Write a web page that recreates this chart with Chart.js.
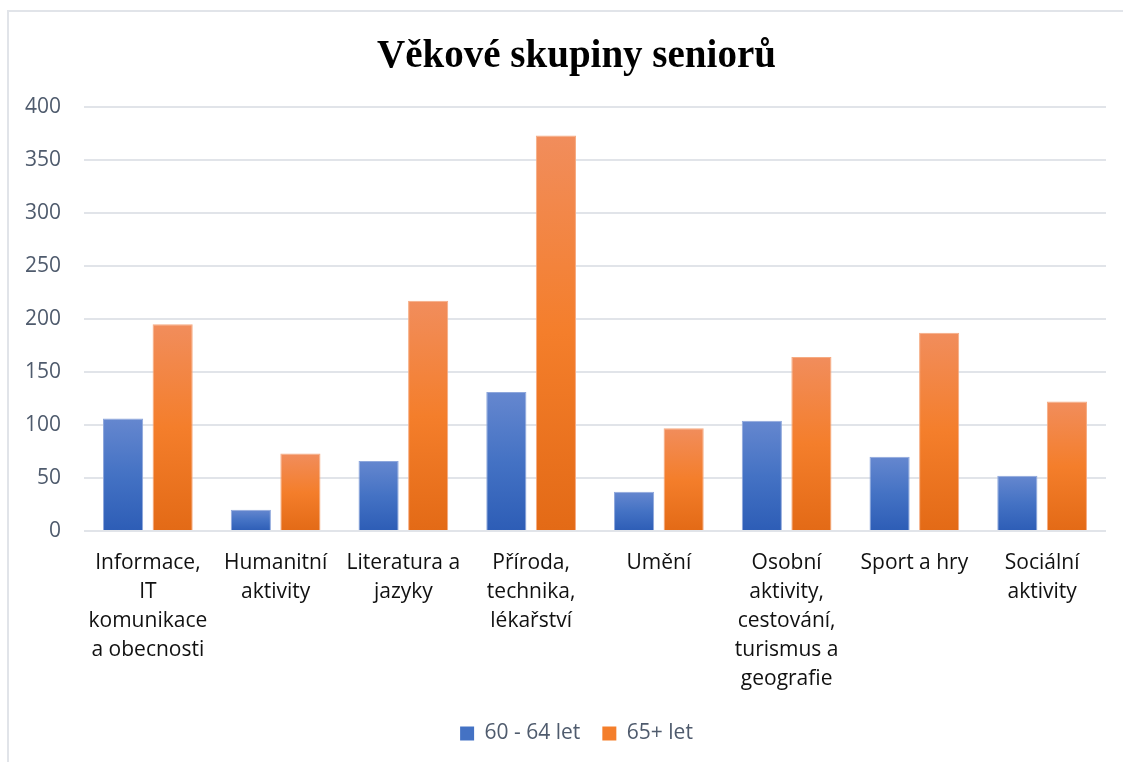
<!DOCTYPE html>
<html>
<head>
<meta charset="utf-8">
<script src="https://cdn.jsdelivr.net/npm/chart.js@4/dist/chart.umd.min.js"></script>
<style>
  html, body { margin: 0; padding: 0; background: #ffffff; overflow: hidden; }
  #wrap { position: relative; width: 1123px; height: 762px; overflow: hidden; }
  #frame { position: absolute; left: 7px; top: 10px; width: 1200px; height: 800px;
           border-left: 2px solid #e1e4e9; border-top: 2px solid #e1e4e9; box-sizing: border-box; }
  #c { position: absolute; left: 0; top: 0; }
</style>
</head>
<body>
<div id="wrap">
  <div id="frame"></div>
  <canvas id="c" width="1143" height="762"></canvas>
</div>
<script>
const chartTitle = 'Věkové skupiny seniorů';
const categories = [
  ['Informace,', 'IT', 'komunikace', 'a obecnosti'],
  ['Humanitní', 'aktivity'],
  ['Literatura a', 'jazyky'],
  ['Příroda,', 'technika,', 'lékařství'],
  ['Umění'],
  ['Osobní', 'aktivity,', 'cestování,', 'turismus a', 'geografie'],
  ['Sport a hry'],
  ['Sociální', 'aktivity']
];
const seriesNames = ['60 - 64 let', '65+ let'];
const values6064 = [106, 20, 66, 131, 37, 104, 70, 52];
const values65plus = [195, 73, 217, 373, 97, 164, 187, 122];
const yTicks = [0, 50, 100, 150, 200, 250, 300, 350, 400];

const blueStops = ['#6587cf', '#4472c4', '#2d5db6'];
const orangeStops = ['#f18d5c', '#f47e2b', '#e36a16'];

function gradFill(stops) {
  return function (ctx) {
    const chart = ctx.chart;
    if (!chart.chartArea || ctx.type !== 'data') return stops[1];
    const ys = chart.scales.y;
    const top = ys.getPixelForValue(ctx.raw);
    const bot = ys.getPixelForValue(0);
    if (!isFinite(top) || !isFinite(bot) || top === bot) return stops[1];
    const g = chart.ctx.createLinearGradient(0, top, 0, bot);
    g.addColorStop(0, stops[0]);
    g.addColorStop(0.5, stops[1]);
    g.addColorStop(1, stops[2]);
    return g;
  };
}

const tickColor = '#4f5b6d';
const font = 'Open Sans';

new Chart(document.getElementById('c'), {
  type: 'bar',
  data: {
    labels: categories,
    datasets: [
      { label: seriesNames[0], data: values6064, backgroundColor: gradFill(blueStops),
        borderColor: '#8ea7dc', borderWidth: 1, barPercentage: 0.81, categoryPercentage: 0.776 },
      { label: seriesNames[1], data: values65plus, backgroundColor: gradFill(orangeStops),
        borderColor: '#f6ab82', borderWidth: 1, barPercentage: 0.81, categoryPercentage: 0.776 }
    ]
  },
  options: {
    responsive: false,
    animation: false,
    devicePixelRatio: 1,
    layout: { padding: { left: 10, right: 0, top: 0, bottom: 8 } },
    plugins: {
      title: {
        display: true, text: chartTitle, color: '#000000',
        font: { family: 'Liberation Serif', size: 39, weight: 'bold' },
        padding: { top: 34, bottom: 26 }
      },
      legend: {
        position: 'bottom',
        labels: {
          color: tickColor, font: { family: font, size: 21 },
          boxWidth: 14, boxHeight: 14, padding: 22,
          generateLabels: function (chart) {
            const fills = [blueStops[1], orangeStops[1]];
            return chart.data.datasets.map((ds, i) => ({
              text: ds.label, fillStyle: fills[i], strokeStyle: fills[i], lineWidth: 0,
              fontColor: tickColor, datasetIndex: i, hidden: false
            }));
          }
        }
      },
      tooltip: { enabled: false }
    },
    scales: {
      x: {
        afterFit: function (scale) { scale.height = 170; },
        grid: { display: false, drawTicks: false },
        border: { display: false },
        ticks: { color: '#111111', font: { family: font, size: 21, lineHeight: 1.38 },
                 maxRotation: 0, minRotation: 0, autoSkip: false, padding: 18 }
      },
      y: {
        min: 0, max: 400,
        afterFit: function (scale) { scale.width = 74; },
        afterBuildTicks: function (scale) { scale.ticks = yTicks.map(v => ({ value: v })); },
        grid: { color: '#e1e4e9', lineWidth: 2, drawTicks: false },
        border: { display: false },
        ticks: { color: tickColor, font: { family: font, size: 21 }, padding: 23 }
      },
      yRightSpace: {
        position: 'right', display: true,
        afterFit: function (scale) { scale.width = 37; },
        grid: { display: false, drawTicks: false },
        border: { display: false },
        ticks: { display: false }
      }
    }
  }
});
</script>
</body>
</html>
